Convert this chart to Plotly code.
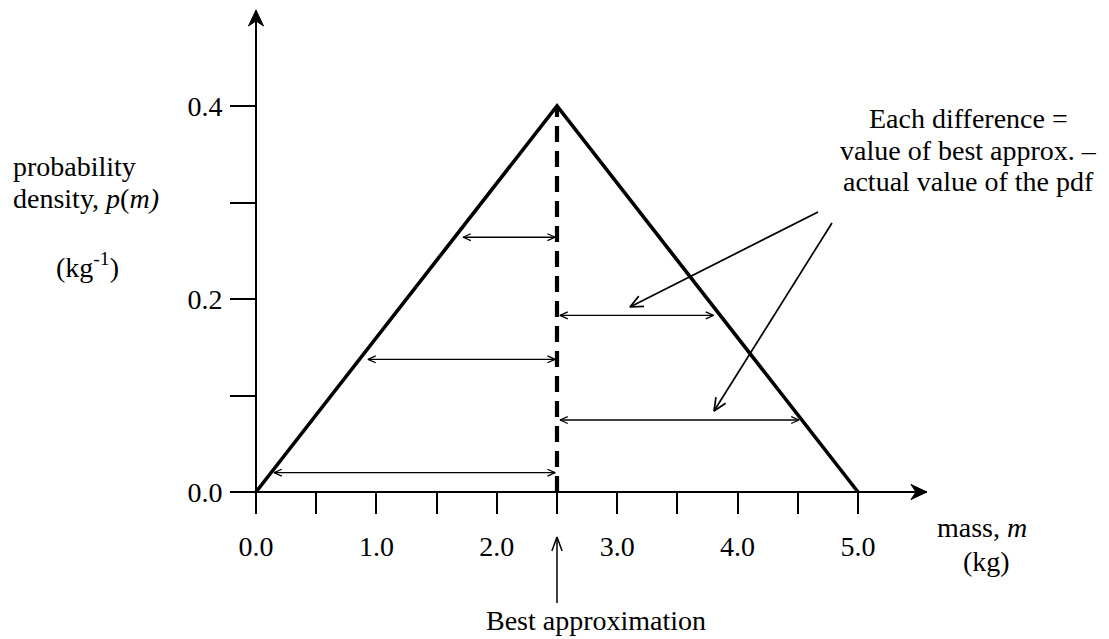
import math
import plotly.graph_objects as go

# ---------------- data ----------------
mass_pts = [0.0, 2.5, 5.0]          # kg
pdf_pts = [0.0, 0.4, 0.0]           # kg^-1
best_approx = 2.5                   # kg

left_diff_levels = [0.020, 0.1375, 0.264]
left_diff_mass = [0.15, 0.93, 1.72]
right_diff_levels = [0.183, 0.0746]
right_diff_mass = [3.80, 4.51]

x_tick_vals = [0.0, 0.5, 1.0, 1.5, 2.0, 2.5, 3.0, 3.5, 4.0, 4.5, 5.0]
x_tick_text = ["0.0", "", "1.0", "", "2.0", "", "3.0", "", "4.0", "", "5.0"]
y_tick_vals = [0.0, 0.1, 0.2, 0.3, 0.4]
y_tick_text = ["0.0", "", "0.2", "", "0.4"]

pointer_from = [(4.668, 0.2902), (4.784, 0.2788)]
pointer_to = [(3.106, 0.1917), (3.804, 0.0839)]

x_axis_end = 5.573
y_axis_end = 0.4995
best_arrow_tip = -0.0466
best_arrow_tail = -0.115

note_lines = ["Each difference =", "value of best approx. \u2013", "actual value of the pdf"]
ylabel_lines = ["probability", "density, <i>p</i>(<i>m)</i>", "(kg<sup>-1</sup>)"]
xlabel_lines = ["mass, <i>m</i>", "(kg)"]
best_label = "Best approximation"

# ---------------- layout geometry ----------------
OFF = 8                      # page body margin
W, H = 1109 - OFF, 639 - OFF
SX = 120.4                   # px per kg
SY = 965.0                   # px per kg^-1
ORIGIN = (256 - OFF, 492 - OFF)   # origin in figure px
XMIN = -ORIGIN[0] / SX
XMAX = XMIN + W / SX
YMAX = ORIGIN[1] / SY
YMIN = YMAX - H / SY
FONT = "Liberation Serif"
FS = 28


def head(x0, y0, x1, y1, length, ang_deg):
    """open arrow head at (x1, y1) for a segment coming from (x0, y0)."""
    ux, uy = (x1 - x0) * SX, (y1 - y0) * SY
    n = math.hypot(ux, uy)
    ux, uy = -ux / n, -uy / n
    a = math.radians(ang_deg)
    pts = []
    for s in (1, -1):
        c, sn = math.cos(a), math.sin(s * a)
        rx = ux * c - uy * sn
        ry = ux * sn + uy * c
        pts.append((x1 + length * rx / SX, y1 + length * ry / SY))
    return [pts[0], (x1, y1), pts[1]]


def stealth(x0, y0, x1, y1, length, half_w, notch):
    ux, uy = (x1 - x0) * SX, (y1 - y0) * SY
    n = math.hypot(ux, uy)
    ux, uy = ux / n, uy / n
    nx, ny = -uy, ux
    bx, by = -length * ux, -length * uy
    p1 = (x1 + (bx + half_w * nx) / SX, y1 + (by + half_w * ny) / SY)
    p2 = (x1 + (-(length - notch) * ux) / SX, y1 + (-(length - notch) * uy) / SY)
    p3 = (x1 + (bx - half_w * nx) / SX, y1 + (by - half_w * ny) / SY)
    return [(x1, y1), p1, p2, p3, (x1, y1)]


class Seg:
    def __init__(self):
        self.x, self.y = [], []

    def add(self, pts):
        for p in pts:
            self.x.append(p[0])
            self.y.append(p[1])
        self.x.append(None)
        self.y.append(None)


fig = go.Figure()

# triangle pdf
fig.add_trace(go.Scatter(x=mass_pts, y=pdf_pts, mode="lines",
                         line=dict(color="black", width=3.6), hoverinfo="skip"))
# best approximation dashed line
fig.add_trace(go.Scatter(x=[best_approx, best_approx], y=[0, max(pdf_pts)], mode="lines",
                         line=dict(color="black", width=4.2, dash="16px,9px"), hoverinfo="skip"))

# axes lines
axes = Seg()
axes.add([(0, 0), (x_axis_end, 0)])
axes.add([(0, 0), (0, y_axis_end)])
fig.add_trace(go.Scatter(x=axes.x, y=axes.y, mode="lines",
                         line=dict(color="black", width=2), hoverinfo="skip"))
for tri in (stealth(0, 0, x_axis_end, 0, 16, 7.5, 5), stealth(0, 0, 0, y_axis_end, 16, 7.5, 5)):
    fig.add_trace(go.Scatter(x=[p[0] for p in tri], y=[p[1] for p in tri], mode="lines",
                             fill="toself", fillcolor="black",
                             line=dict(color="black", width=1), hoverinfo="skip"))

# difference arrows (double headed, thin)
diff = Seg()
gap_l = 1.8 / SX
gap_r = 3.0 / SX
for m, p in zip(left_diff_mass, left_diff_levels):
    xa, xb = m, best_approx - gap_l
    diff.add([(xa, p), (xb, p)])
    diff.add(head(xb, p, xa, p, 8.5, 24))
    diff.add(head(xa, p, xb, p, 8.5, 24))
for m, p in zip(right_diff_mass, right_diff_levels):
    xa, xb = best_approx + gap_r, m
    diff.add([(xa, p), (xb, p)])
    diff.add(head(xb, p, xa, p, 8.5, 24))
    diff.add(head(xa, p, xb, p, 8.5, 24))
fig.add_trace(go.Scatter(x=diff.x, y=diff.y, mode="lines",
                         line=dict(color="black", width=1.3), hoverinfo="skip"))

# pointers from the note
ptr = Seg()
for (xa, ya), (xb, yb) in zip(pointer_from, pointer_to):
    ptr.add([(xa, ya), (xb, yb)])
    ptr.add(head(xa, ya, xb, yb, 14, 24))
fig.add_trace(go.Scatter(x=ptr.x, y=ptr.y, mode="lines",
                         line=dict(color="black", width=1.7), hoverinfo="skip"))

# best approximation arrow
ba = Seg()
ba.add([(best_approx, best_arrow_tail), (best_approx, best_arrow_tip)])
ba.add(head(best_approx, best_arrow_tail, best_approx, best_arrow_tip, 15, 20))
fig.add_trace(go.Scatter(x=ba.x, y=ba.y, mode="lines",
                         line=dict(color="black", width=1.5), hoverinfo="skip"))


# ---------------- text (positions in page px) ----------------
def px(x):
    return (x - OFF) / W


def py(y):
    return 1 - (y - OFF) / H


anns = []
for txt, yc in zip(note_lines, [118, 150, 182]):
    anns.append(dict(text=txt, x=px(968), y=py(yc), xanchor="center", yanchor="middle"))
anns.append(dict(text=ylabel_lines[0], x=px(11), y=py(167), xanchor="left", yanchor="middle"))
anns.append(dict(text=ylabel_lines[1], x=px(11), y=py(198), xanchor="left", yanchor="middle"))
anns.append(dict(text=ylabel_lines[2], x=px(87), y=py(265), xanchor="center", yanchor="middle"))
anns.append(dict(text=xlabel_lines[0], x=px(982), y=py(527), xanchor="center", yanchor="middle"))
anns.append(dict(text=xlabel_lines[1], x=px(986), y=py(561), xanchor="center", yanchor="middle"))
anns.append(dict(text=best_label, x=px(484), y=py(620), xanchor="left", yanchor="middle"))
for a in anns:
    a.update(xref="paper", yref="paper", showarrow=False,
             font=dict(family=FONT, size=FS, color="black"))

fig.update_layout(
    width=W, height=H,
    margin=dict(l=0, r=0, t=0, b=0, pad=0),
    paper_bgcolor="white", plot_bgcolor="white",
    showlegend=False,
    annotations=anns,
    xaxis=dict(range=[XMIN, XMAX], showgrid=False, zeroline=False, showline=False,
               anchor="free", position=(0 - YMIN) / (YMAX - YMIN),
               tickmode="array", tickvals=x_tick_vals, ticktext=x_tick_text,
               ticks="outside", ticklen=21, tickwidth=1.8, tickcolor="black",
               ticklabelstandoff=8,
               tickfont=dict(family=FONT, size=FS, color="black")),
    yaxis=dict(range=[YMIN, YMAX], showgrid=False, zeroline=False, showline=False,
               anchor="free", position=(0 - XMIN) / (XMAX - XMIN),
               tickmode="array", tickvals=y_tick_vals, ticktext=y_tick_text,
               ticks="outside", ticklen=26, tickwidth=1.8, tickcolor="black",
               ticklabelstandoff=2,
               tickfont=dict(family=FONT, size=FS, color="black")),
)

fig.write_html("out.html")
